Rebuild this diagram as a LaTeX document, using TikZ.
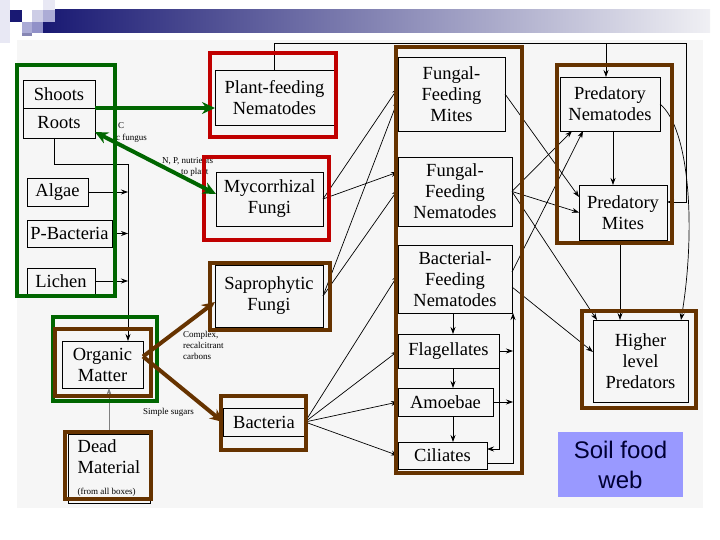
\documentclass[tikz,border=0pt]{standalone}
\usepackage{fontspec}
\setmainfont{Liberation Serif}
\newfontfamily\slidefont{Liberation Sans}
\usetikzlibrary{arrows.meta}

\definecolor{framegreen}{RGB}{0,102,0}
\definecolor{framered}{RGB}{192,0,0}
\definecolor{framebrown}{RGB}{102,51,0}
\definecolor{barnavy}{RGB}{25,25,115}
\definecolor{barmid}{RGB}{150,150,195}
\definecolor{barlight}{RGB}{240,240,244}
\definecolor{sqpale}{RGB}{232,232,244}
\definecolor{sqlight}{RGB}{205,205,230}
\definecolor{sqmid}{RGB}{172,172,214}
\definecolor{sqdark}{RGB}{145,145,200}
\definecolor{sqgrey}{RGB}{135,135,180}
\definecolor{scan}{RGB}{246,246,246}
\definecolor{labelblue}{RGB}{153,153,255}
\definecolor{labeltext}{RGB}{0,0,51}

\begin{document}
\begin{tikzpicture}[x=1pt, y=-1pt,
    orgbox/.style={
      draw, line width=0.6pt, inner sep=0pt, outer sep=0pt, align=center,
      font=\fontsize{18.5}{21}\selectfont
    },
    note/.style={
      inner sep=0pt, align=left, font=\fontsize{9}{11}\selectfont
    },
    arrowtip/.style={
      -{Stealth[length=7pt,width=5pt]}, line width=0.7pt
    },
    colframe/.style={
      line width=4pt
    },
    fatarrow/.style={
      line width=4pt, -{Stealth[length=13pt,width=12pt]}
    },
    fatboth/.style={
      line width=4pt, {Stealth[length=13pt,width=12pt]}-{Stealth[length=13pt,width=12pt]}
    }
  ]
    \useasboundingbox (0,0) rectangle (720,540);
    \fill[white] (0,0) rectangle (720,540);
    \fill[scan] (17,40) rectangle (703,508);

    % slide header
    \shade[left color=barnavy, middle color=barmid, right color=barlight] (43,10) rectangle (710,33);
    \fill[sqpale]  ( 0, 0) rectangle (10,43);
    \fill[barnavy] (10,10) rectangle (22,22);
    \fill[sqlight] (32,10) rectangle (43,22);
    \fill[sqpale]  (43, 0) rectangle (55,10);
    \fill[sqmid]   (43,10) rectangle (55,22);
    \fill[sqmid]   (22,22) rectangle (32,33);
    \fill[sqdark]  (32,22) rectangle (43,33);
    \fill[sqgrey]  (22,33) rectangle (32,36);

    \node[orgbox, minimum width=72pt, minimum height=28pt] (shoots) at (59,94) {Shoots};
    \node[orgbox, minimum width=72pt, minimum height=30pt] (roots) at (59,123) {Roots};
    \node[orgbox, minimum width=61pt, minimum height=28pt] (algae) at (57.5,192) {Algae};
    \node[orgbox, minimum width=85pt, minimum height=27pt] (pbact) at (69.5,233.5) {P-Bacteria};
    \node[orgbox, minimum width=68pt, minimum height=26pt] (lichen) at (61,281) {Lichen};
    \node[orgbox, minimum width=81pt, minimum height=47pt] (organic) at (102.5,364.5) {Organic\\Matter};
    \node[orgbox, align=left, minimum width=82pt, minimum height=69pt] (dead) at (109,468.5)
      {Dead\\Material\\\fontsize{9}{11}\selectfont (from all boxes)};

    \node[orgbox, minimum width=119pt, minimum height=55pt] (plantnem) at (274.5,97.5) {Plant-feeding\\Nematodes};
    \node[orgbox, minimum width=107pt, minimum height=54pt] (mycor) at (269.5,199) {Mycorrhizal\\Fungi};
    \node[orgbox, minimum width=108pt, minimum height=62pt] (sapro) at (269,296) {Saprophytic\\Fungi};
    \node[orgbox, minimum width=82pt, minimum height=28pt] (bacteria) at (264,422) {Bacteria};

    \node[orgbox, minimum width=107pt, minimum height=74pt] (ffmites) at (451.5,94) {Fungal-\\Feeding\\Mites};
    \node[orgbox, minimum width=114pt, minimum height=69pt] (ffnem) at (455,191.5) {Fungal-\\Feeding\\Nematodes};
    \node[orgbox, minimum width=114pt, minimum height=68pt] (bfnem) at (455,279) {Bacterial-\\Feeding\\Nematodes};
    \node[orgbox, minimum width=101pt, minimum height=34pt] (flag) at (448.5,351) {Flagellates};
    \node[orgbox, minimum width=95pt, minimum height=28pt] (amoebae) at (445.5,402) {Amoebae};
    \node[orgbox, minimum width=89pt, minimum height=27pt] (ciliates) at (442.5,455.5) {Ciliates};

    \node[orgbox, minimum width=100pt, minimum height=54pt] (prednem) at (610,104) {Predatory\\Nematodes};
    \node[orgbox, minimum width=88pt, minimum height=55pt] (predmites) at (623,212.5) {Predatory\\Mites};
    \node[orgbox, minimum width=95pt, minimum height=82pt] (higher) at (640.5,361) {Higher\\level\\Predators};

    \coordinate (busL) at (128,164);
    \coordinate (busC) at (453,0);
    \coordinate (busR) at (513,0);
    \coordinate (topR) at (686,43);
    \coordinate (topP) at (606,43);

    \draw[arrowtip] ([xshift=-5pt]roots.south) |- (busL) -- (busL |- organic.north);
    \draw[arrowtip] (algae.east) -- (algae.east -| busL);
    \draw[arrowtip] (pbact.east) -- (pbact.east -| busL);
    \draw[arrowtip] (lichen.east) -- (lichen.east -| busL);
    \draw[arrowtip, gray] (dead.north) -- (dead.north |- organic.south);

    \draw[arrowtip] (mycor.east) -- ([yshift=6pt]ffmites.west);
    \draw[arrowtip] (mycor.east) -- ([yshift=19.5pt]ffnem.west);
    \draw[arrowtip] (sapro.east) -- ([yshift=-6pt]ffmites.west);
    \draw[arrowtip] (sapro.east) -- ([yshift=2pt]ffnem.west);
    \foreach \target/\shift in {bfnem/4pt, flag/0pt, amoebae/0pt, ciliates/0pt}
      \draw[arrowtip] (bacteria.east) -- ([yshift=\shift]\target.west);

    \draw[arrowtip] (bfnem.south -| busC) -- (flag.north -| busC);
    \draw[arrowtip] (flag.south -| busC) -- (amoebae.north -| busC);
    \draw[arrowtip] (amoebae.south -| busC) -- (ciliates.north -| busC);
    \draw[arrowtip] ([yshift=-7.5pt]ciliates.east) -| (bfnem.south -| busR);
    \draw[arrowtip] (flag.east) -- (flag.east -| busR);
    \draw[arrowtip] (amoebae.east) -- (amoebae.east -| busR);
    \draw[arrowtip] (flag.south east) |- ([yshift=6.5pt]ciliates.east);

    \draw[arrowtip] (ffmites.east) -- ([yshift=15.5pt]predmites.west);
    \draw[arrowtip] (ffnem.east) -- ([xshift=-38pt]prednem.south);
    \draw[arrowtip] (ffnem.east) -- (predmites.west);
    \draw[arrowtip] (ffnem.east) -- ([xshift=4pt]higher.north west);
    \draw[arrowtip] ([yshift=7pt]bfnem.east) -- ([xshift=-27pt]prednem.south);
    \draw[arrowtip] ([yshift=-8pt]bfnem.east) -- ([yshift=9pt]higher.west);
    \draw[arrowtip] ([xshift=3pt]prednem.south) -- ([xshift=-10pt]predmites.north);
    \draw[arrowtip] ([xshift=-3pt]predmites.south) -- ([xshift=-20.5pt]higher.north);
    \draw[arrowtip] (prednem.east) .. controls +(30,25) and +(15,-90) .. ([xshift=40.5pt]higher.north);

    \draw[arrowtip] (plantnem.north) |- (topR) |- ([yshift=10.5pt]predmites.east);
    \draw[arrowtip] (topP) -- (topP |- prednem.north);

    \node[note, anchor=west] (lblC) at (118,126) {C};
    \node[note, anchor=west] (lblFungus) at (116,138) {c fungus};
    \node[note, anchor=west] (lblNP) at (162,161) {N, P, nutrients};
    \node[note, anchor=west] (lblPlant) at (181,172) {to plant};
    \node[note, anchor=north west] (lblComplex) at (183,331) {Complex,\\recalcitrant\\carbons};
    \node[note, anchor=west] (lblSugars) at (143,412) {Simple sugars};

    % coloured groups
    \draw[colframe, framegreen] (17,65) rectangle (115,296);
    \draw[colframe, framered] (210,53) rectangle (336,137);
    \draw[colframe, framered] (204,157) rectangle (329,240);
    \draw[colframe, framebrown] (210,263) rectangle (330,330);
    \draw[colframe, framegreen] (53,317) rectangle (157,401);
    \draw[colframe, framebrown] (55,329) rectangle (151,396);
    \draw[colframe, framebrown] (65,432) rectangle (151,499);
    \draw[colframe, framebrown] (221,396) rectangle (306,450);
    \draw[colframe, framebrown] (396,47) rectangle (522,473);
    \draw[colframe, framebrown] (557,65) rectangle (672,243);
    \draw[colframe, framebrown] (582,311) rectangle (696,408);

    \draw[fatarrow, framegreen] (roots.north east) -- (plantnem.west |- roots.north east);
    \draw[fatboth, framegreen] ([yshift=-9pt]roots.east) -- ([yshift=5pt]mycor.west);
    \draw[fatarrow, framebrown] ([yshift=8pt]organic.east) -- ([yshift=-6pt]sapro.west);
    \draw[fatarrow, framebrown] ([yshift=8pt]organic.east) -- (bacteria.west);

    \node[fill=labelblue, minimum width=125pt, minimum height=65pt, align=center, text=labeltext,
      font=\slidefont\fontsize{24}{30}\selectfont] (title) at (620.5,464.5) {Soil food\\web};
  \end{tikzpicture}
\end{document}
